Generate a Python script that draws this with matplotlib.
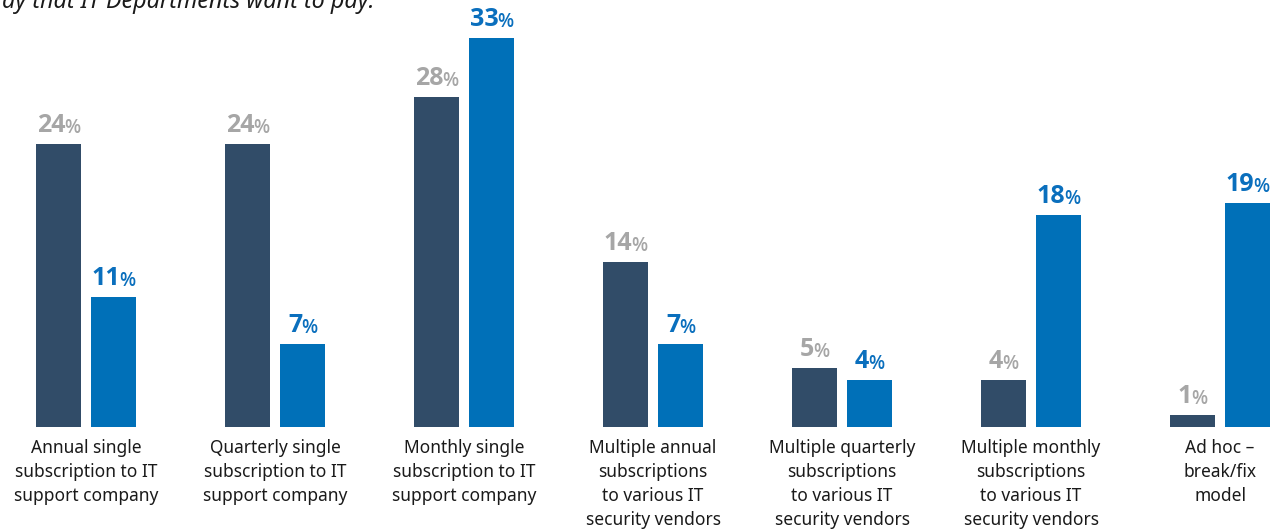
import matplotlib.pyplot as plt

plt.rcParams['font.family'] = ['Noto Sans', 'DejaVu Sans']

categories = [
    "Annual single\nsubscription to IT\nsupport company",
    "Quarterly single\nsubscription to IT\nsupport company",
    "Monthly single\nsubscription to IT\nsupport company",
    "Multiple annual\nsubscriptions\nto various IT\nsecurity vendors",
    "Multiple quarterly\nsubscriptions\nto various IT\nsecurity vendors",
    "Multiple monthly\nsubscriptions\nto various IT\nsecurity vendors",
    "Ad hoc –\nbreak/fix\nmodel",
]
series_dark = [24, 24, 28, 14, 5, 4, 1]
series_blue = [11, 7, 33, 7, 4, 18, 19]

DARK = "#314c68"
BLUE = "#0070b8"
GREY_TXT = "#a6a6a6"
BLUE_TXT = "#0a6fbd"

W, H = 1280, 531
fig = plt.figure(figsize=(W / 100, H / 100), dpi=100)
ax = fig.add_axes([0, 0, 1, 1])

# pixel layout: group pitch 189px, first group centre at 86px, baseline at 427px
pitch = 189.0
px_per_pct = 11.8
ax.set_xlim(-86 / pitch, (W - 86) / pitch)
ax.set_ylim(-(H - 427) / px_per_pct, 427 / px_per_pct)
ax.axis("off")

bw = 45 / pitch
off = 27.5 / pitch
x = list(range(len(categories)))
ax.bar([i - off for i in x], series_dark, width=bw, color=DARK)
ax.bar([i + off for i in x], series_blue, width=bw, color=BLUE)

fig.canvas.draw()
renderer = fig.canvas.get_renderer()


def value_label(xc, val, color):
    t1 = ax.annotate(str(val), (xc, val), xytext=(0, 6), textcoords="offset pixels",
                     ha="left", va="bottom", fontsize=18, fontweight="bold",
                     family=["Open Sans", "DejaVu Sans"], color=color)
    t2 = ax.annotate("%", (xc, val), xytext=(0, 6), textcoords="offset pixels",
                     ha="left", va="bottom", fontsize=13.5, fontweight="semibold",
                     family=["Open Sans", "DejaVu Sans"], color=color)
    w1 = t1.get_window_extent(renderer).width - 1
    w2 = t2.get_window_extent(renderer).width
    start = -(w1 + w2) / 2
    t1.set_position((start, 6))
    t2.set_position((start + w1, 6))


for i in x:
    value_label(i - off, series_dark[i], GREY_TXT)
    value_label(i + off, series_blue[i], BLUE_TXT)
    ax.annotate(categories[i], (i, 0), xytext=(0, -12), textcoords="offset pixels",
                ha="center", va="top", fontsize=12.5, color="#1a1a1a", linespacing=1.42)

# question line running off the top edge
fig.text(2 / W, 1 - 8 / H, "ay that IT Departments want to pay:", ha="left",
         va="baseline", fontsize=16.8, style="italic", color="#1a1a1a")

fig.savefig("out.png", dpi=100)
